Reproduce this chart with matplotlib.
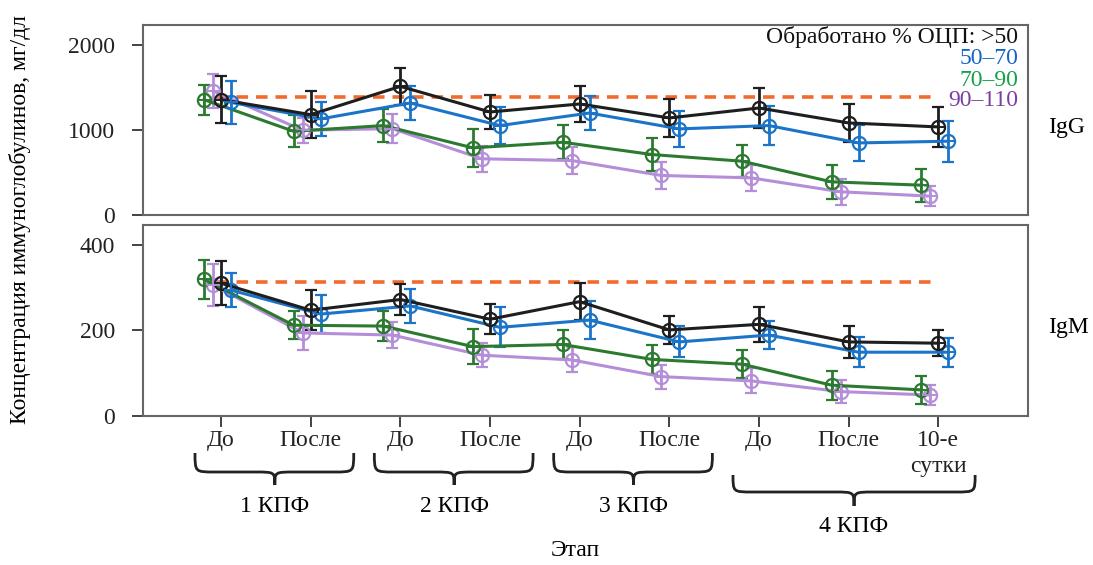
import matplotlib
matplotlib.use('agg')
import matplotlib.pyplot as plt
from matplotlib.path import Path
from matplotlib.patches import PathPatch
import matplotlib.transforms as mtransforms
import numpy as np

plt.rcParams['font.family'] = ['Liberation Serif', 'DejaVu Serif']
plt.rcParams['font.size'] = 17

# --- data ---
stages = ['До', 'После', 'До', 'После', 'До', 'После', 'До', 'После', '10-е\nсутки']
groups = ['1 КПФ', '2 КПФ', '3 КПФ', '4 КПФ']
series_names = ['>50', '50–70', '70–90', '90–110']

igg_gt50 = [1357, 1181, 1513, 1212, 1306, 1142, 1259, 1083, 1036]
igg_gt50_err = [274, 278, 215, 205, 207, 219, 231, 225, 231]
igg_50_70 = [1325, 1130, 1318, 1052, 1200, 1013, 1052, 848, 868]
igg_50_70_err = [255, 205, 205, 215, 205, 211, 225, 209, 240]
igg_70_90 = [1357, 985, 1052, 790, 856, 711, 633, 390, 351]
igg_70_90_err = [176, 190, 192, 220, 200, 192, 190, 196, 196]
igg_90_110 = [1460, 997, 1016, 661, 641, 465, 437, 273, 222]
igg_90_110_err = [200, 150, 170, 153, 162, 156, 156, 150, 121]

igm_gt50 = [310, 247, 272, 226, 267, 201, 214, 173, 170]
igm_gt50_err = [51, 47, 37, 35, 43, 32, 41, 38, 31]
igm_50_70 = [294, 238, 257, 207, 224, 173, 189, 149, 149]
igm_50_70_err = [39, 45, 39, 47, 44, 36, 33, 35, 34]
igm_70_90 = [319, 212, 210, 162, 167, 132, 121, 72, 61]
igm_70_90_err = [45, 33, 35, 40, 33, 33, 33, 34, 33]
igm_90_110 = [306, 194, 189, 142, 131, 92, 82, 57, 49]
igm_90_110_err = [49, 39, 30, 28, 29, 28, 29, 27, 23]

igg_norm = 1390
igm_norm = 312

# --- style ---
line_cols = {'>50': '#1e1e1e', '50–70': '#1b74c8', '70–90': '#2b7a30', '90–110': '#b48ed8'}
text_cols = {'>50': '#111111', '50–70': '#1565c0', '70–90': '#17a04a', '90–110': '#7b3fa0'}
offsets = {'>50': 0.0, '50–70': 0.11, '70–90': -0.19, '90–110': -0.09}
order = ['90–110', '70–90', '50–70', '>50']

W, H = 1093, 565
fig = plt.figure(figsize=(W / 100, H / 100), dpi=100)

def fx(x):
    return x / W

def fy(y):
    return 1 - y / H

ax1 = fig.add_axes([fx(143), fy(215), fx(1028) - fx(143), (215 - 24.6) / H])
ax2 = fig.add_axes([fx(143), fy(416), fx(1028) - fx(143), (416 - 225) / H])

x = np.arange(len(stages))

panels = [
    (ax1, {'>50': (igg_gt50, igg_gt50_err), '50–70': (igg_50_70, igg_50_70_err),
           '70–90': (igg_70_90, igg_70_90_err), '90–110': (igg_90_110, igg_90_110_err)},
     igg_norm, 2240, [0, 1000, 2000]),
    (ax2, {'>50': (igm_gt50, igm_gt50_err), '50–70': (igm_50_70, igm_50_70_err),
           '70–90': (igm_70_90, igm_70_90_err), '90–110': (igm_90_110, igm_90_110_err)},
     igm_norm, 446, [0, 200, 400]),
]

for ax, data, norm, ytop, yt in panels:
    ax.hlines(norm, -0.05, 7.95, colors='#f26a2e', linestyles=(0, (3.2, 2.2)), lw=2.6, zorder=1)
    for name in order:
        vals, err = data[name]
        c = line_cols[name]
        xs = x + offsets[name]
        ax.errorbar(xs, vals, yerr=err, color=c, lw=2.2, elinewidth=2.0, capsize=4, capthick=2.0,
                    marker='o', ms=9.5, mfc='none', mec=c, mew=1.6, zorder=2)
        ax.plot(xs, vals, ls='none', marker='+', ms=9.5, mec=c, mew=1.4, zorder=3)
    ax.set_xlim(-0.87, 9.0)
    ax.set_ylim(0, ytop)
    ax.set_yticks(yt)
    ax.tick_params(axis='y', direction='out', length=8, width=1.2, pad=12, colors='#222222')
    for s in ax.spines.values():
        s.set_color('#666666')
        s.set_linewidth(1.5)

ax1.set_xticks([])
ax2.set_xticks(x, stages)
ax2.tick_params(axis='x', direction='out', length=8, width=1.2, pad=2, colors='#222222')
for lab in ax2.get_xticklabels():
    lab.set_verticalalignment('top')
    lab.set_linespacing(1.3)

# legend as coloured text
fig.text(fx(1018), fy(37), 'Обработано % ОЦП: ' + series_names[0], ha='right', va='center',
         color=text_cols['>50'])
for i, name in enumerate(series_names[1:]):
    fig.text(fx(1018), fy(59 + 21 * i), name, ha='right', va='center', color=text_cols[name])

fig.text(fx(1067), fy(127), 'IgG', ha='center', va='center')
fig.text(fx(1068), fy(328), 'IgM', ha='center', va='center')
fig.text(fx(20), fy(220), 'Концентрация иммуноглобулинов, мг/дл', rotation=90,
         ha='center', va='center')
fig.text(fx(575), fy(551), 'Этап', ha='center', va='center')

# curly braces below the stage labels
trans = mtransforms.blended_transform_factory(ax2.transData, fig.transFigure)

def brace(x0, x1, xm, ytop, ybot, ytip, r=0.22):
    verts = [(x0, ytop), (x0, ybot), (x0, ybot), (x0 + r, ybot),
             (xm - r, ybot),
             (xm, ybot), (xm, ybot), (xm, ytip),
             (xm, ybot), (xm, ybot), (xm + r, ybot),
             (x1 - r, ybot),
             (x1, ybot), (x1, ybot), (x1, ytop)]
    codes = [Path.MOVETO, Path.CURVE4, Path.CURVE4, Path.CURVE4,
             Path.LINETO,
             Path.CURVE4, Path.CURVE4, Path.CURVE4,
             Path.CURVE4, Path.CURVE4, Path.CURVE4,
             Path.LINETO,
             Path.CURVE4, Path.CURVE4, Path.CURVE4]
    verts = [(vx, fy(vy)) for vx, vy in verts]
    p = PathPatch(Path(verts, codes), fill=False, lw=2.0, ec='#222222',
                  transform=trans, clip_on=False)
    fig.add_artist(p)

for g in range(3):
    brace(2 * g - 0.29, 2 * g + 1.48, 2 * g + 0.6, 453, 472, 485)
    fig.text(2 * g + 0.6, fy(507), groups[g], ha='center', va='center', transform=trans)
brace(5.71, 8.41, 7.06, 475, 492, 506)
fig.text(7.06, fy(527), groups[3], ha='center', va='center', transform=trans)

fig.savefig('out.png', dpi=100)
